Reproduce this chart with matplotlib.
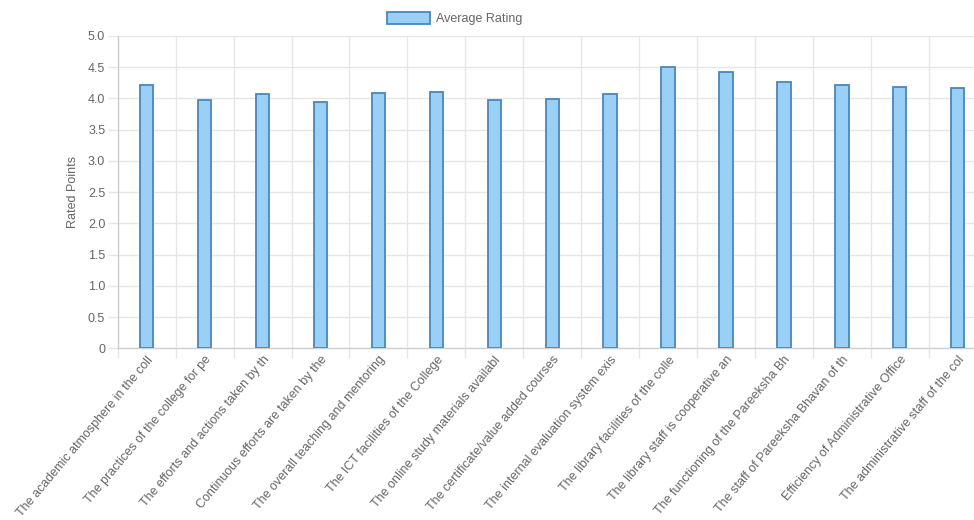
import matplotlib
matplotlib.use('Agg')
import matplotlib.pyplot as plt
import numpy as np

categories = [
    'The academic atmosphere in the coll',
    'The practices of the college for pe',
    'The efforts and actions taken by th',
    'Continuous efforts are taken by the',
    'The overall teaching and mentoring',
    'The ICT facilities of the College',
    'The online study materials availabl',
    'The certificate/value added courses',
    'The internal evaluation system exis',
    'The library facilities of the colle',
    'The library staff is cooperative an',
    'The functioning of the Pareeksha Bh',
    'The staff of Pareeksha Bhavan of th',
    'Efficiency of Administrative Office',
    'The administrative staff of the col',
]
ratings = [4.22, 3.97, 4.07, 3.95, 4.09, 4.10, 3.97, 3.99, 4.07, 4.51, 4.42, 4.26, 4.22, 4.19, 4.16]
y_ticks = [0, 0.5, 1.0, 1.5, 2.0, 2.5, 3.0, 3.5, 4.0, 4.5, 5.0]
y_tick_labels = ['0', '0.5', '1.0', '1.5', '2.0', '2.5', '3.0', '3.5', '4.0', '4.5', '5.0']

plt.rcParams['font.family'] = ['Liberation Sans', 'DejaVu Sans']
text_col = '#666666'
grid_col = '#e6e6e6'
axis_col = '#d0d0d0'

W, H = 974, 520
fig = plt.figure(figsize=(W / 100, H / 100), dpi=100)
# plot area: left 117.7px, right ~986.7px (cut off), top 36px, bottom 348.3px
ax = fig.add_axes([117.7 / W, 1 - 348.3 / H, (986.7 - 117.7) / W, (348.3 - 36) / H])

x = np.arange(len(categories))
ax.bar(x, ratings, width=0.23, color='#9ad0f5', edgecolor='#4a86b8', linewidth=1.3,
       label='Average Rating', zorder=3)

ax.set_xlim(-0.5, len(categories) - 0.5)
ax.set_ylim(0, 5)
ax.set_yticks(y_ticks)
ax.set_yticklabels(y_tick_labels)
ax.set_xticks(x)
ax.set_xticklabels(categories, rotation=50, ha='right', va='top', rotation_mode='anchor')
ax.set_xticks(np.arange(-0.5, len(categories)), minor=True)

ax.tick_params(axis='x', which='major', length=0, pad=4, labelsize=9, labelcolor=text_col)
ax.tick_params(axis='x', which='minor', length=7, color=grid_col, width=1)
ax.tick_params(axis='y', length=7, color=grid_col, width=1, pad=2, labelsize=9, labelcolor=text_col)

ax.grid(True, axis='y', color=grid_col, linewidth=1, zorder=0)
ax.grid(True, axis='x', which='minor', color=grid_col, linewidth=1, zorder=0)
ax.grid(False, axis='x', which='major')

for s in ['top', 'right']:
    ax.spines[s].set_visible(False)
for s in ['left', 'bottom']:
    ax.spines[s].set_color(axis_col)
    ax.spines[s].set_linewidth(1)

ax.set_ylabel('Rated Points', color=text_col, fontsize=9, labelpad=6)

fig.legend(loc='center', bbox_to_anchor=(455 / W, 1 - 18.5 / H), frameon=False,
           fontsize=9, labelcolor=text_col, handlelength=3.4, handleheight=1.1,
           handletextpad=0.5)

fig.savefig('out.png', dpi=100)
